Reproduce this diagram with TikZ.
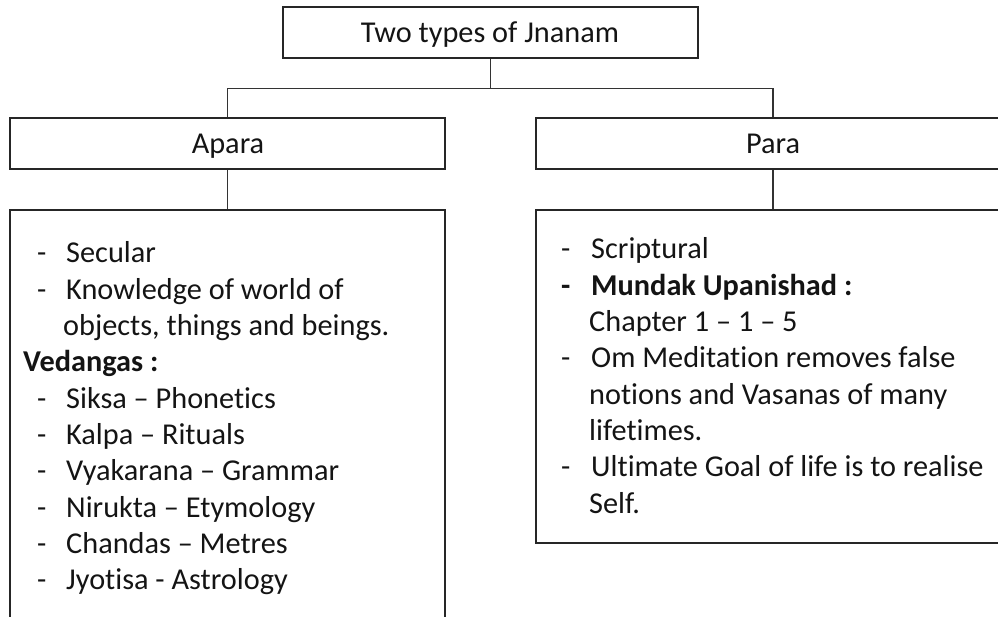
\documentclass[tikz,border=0pt]{standalone}
\usepackage{fontspec}
\setmainfont{Carlito}[Ligatures={TeX,NoCommon}]
\begin{document}
\begin{tikzpicture}[x=1pt,y=-1pt,
  box/.style={draw=black!85,line width=1.3pt,inner sep=0pt,rectangle},
  wire/.style={draw=black!80,line width=1.1pt},
  body/.style={inner sep=0pt,font=\fontsize{30.3}{36}\selectfont,text=black!92},
  item/.style={body,anchor=base west},
  title/.style={body,anchor=base}]
\useasboundingbox (0,0) rectangle (998,617);
\clip (0,0) rectangle (998,617);

% heading boxes
\node[box,minimum width=415pt,minimum height=51pt] (top) at (490.5,32.5) {};
\node[box,minimum width=435pt,minimum height=51pt] (apara) at (227.5,143.5) {};
\node[box,minimum width=474pt,minimum height=51pt] (para) at (773,143.5) {};

% content boxes
\node[box,minimum width=435pt,minimum height=430pt] (aparabody) at (227.5,425) {};
\node[box,minimum width=474pt,minimum height=333pt] (parabody) at (773,376.5) {};

% connectors
\path (top.south) ++(0,30) coordinate (j);
\draw[wire] (top.south) -- (j);
\draw[wire] (apara.north) |- (j) -| (para.north);
\draw[wire] (apara.south) -- (aparabody.north);
\draw[wire] (para.south) -- (parabody.north);

% headings
\node[title] (ttop) at (490,43) {Two types of Jnanam};
\node[title] (tapara) at (228,154) {Apara};
\node[title] (tpara) at (773,154) {Para};

% Apara list
\node[item] (d1) at (37,263) {-};
\node[item] (a1) at (66,263) {Secular};
\node[item] (d2) at (37,299.3) {-};
\node[item] (a2) at (66,299.3) {Knowledge of world of};
\node[item] (a3) at (63,335.6) {objects, things and beings.};
\node[item] (a4) at (23,371.9) {\bfseries Vedangas :};
\node[item] (d5) at (37,408.2) {-};
\node[item] (a5) at (66,408.2) {Siksa – Phonetics};
\node[item] (d6) at (37,444.5) {-};
\node[item] (a6) at (66,444.5) {Kalpa – Rituals};
\node[item] (d7) at (37,480.8) {-};
\node[item] (a7) at (66,480.8) {Vyakarana – Grammar};
\node[item] (d8) at (37,517.1) {-};
\node[item] (a8) at (66,517.1) {Nirukta – Etymology};
\node[item] (d9) at (37,553.4) {-};
\node[item] (a9) at (66,553.4) {Chandas – Metres};
\node[item] (d10) at (37,589.7) {-};
\node[item] (a10) at (66,589.7) {Jyotisa - Astrology};

% Para list
\node[item] (e1) at (561,259) {-};
\node[item] (p1) at (591,259) {Scriptural};
\node[item] (e2) at (561,295.3) {\bfseries -};
\node[item] (p2) at (591,295.3) {\bfseries Mundak Upanishad :};
\node[item] (p3) at (589,331.6) {Chapter 1 – 1 – 5};
\node[item] (e4) at (561,367.9) {-};
\node[item] (p4) at (591,367.9) {Om Meditation removes false};
\node[item] (p5) at (589,404.2) {notions and Vasanas of many};
\node[item] (p6) at (589,440.5) {lifetimes.};
\node[item] (e7) at (561,476.8) {-};
\node[item] (p7) at (591,476.8) {Ultimate Goal of life is to realise};
\node[item] (p8) at (589,513.1) {Self.};
\end{tikzpicture}
\end{document}
